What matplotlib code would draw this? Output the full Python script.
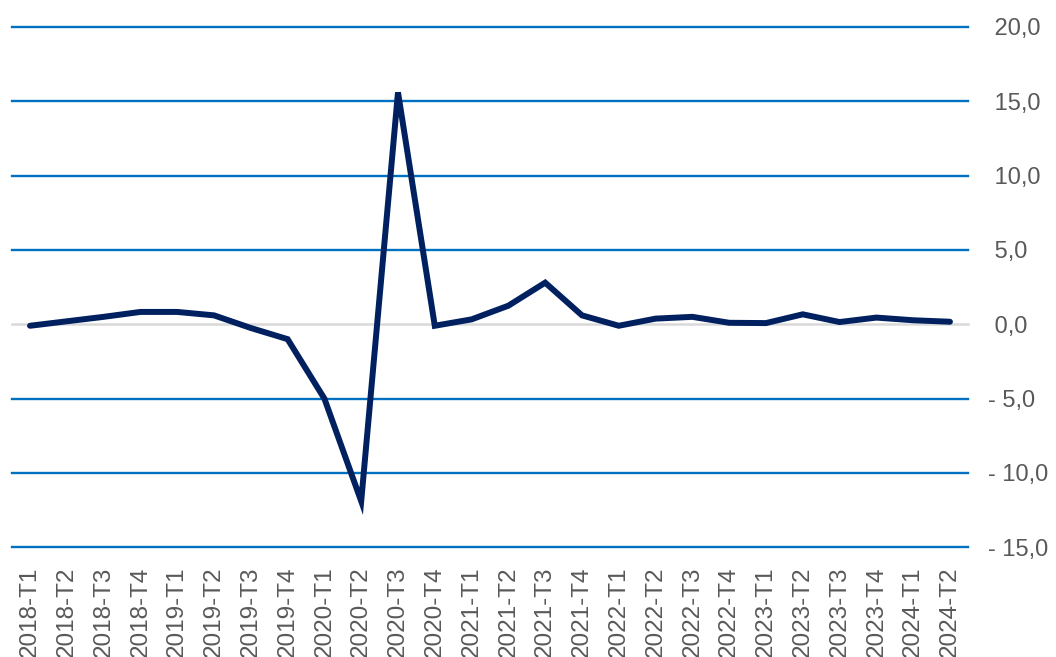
import matplotlib.pyplot as plt
import numpy as np

plt.rcParams['font.family'] = ['Liberation Sans', 'DejaVu Sans']

# quarters and values
quarters = ['2018-T1', '2018-T2', '2018-T3', '2018-T4',
            '2019-T1', '2019-T2', '2019-T3', '2019-T4',
            '2020-T1', '2020-T2', '2020-T3', '2020-T4',
            '2021-T1', '2021-T2', '2021-T3', '2021-T4',
            '2022-T1', '2022-T2', '2022-T3', '2022-T4',
            '2023-T1', '2023-T2', '2023-T3', '2023-T4',
            '2024-T1', '2024-T2']
values = [-0.1, 0.2, 0.5, 0.83,
          0.83, 0.6, -0.25, -1.0,
          -5.0, -11.9, 15.6, -0.1,
          0.33, 1.25, 2.8, 0.6,
          -0.1, 0.38, 0.5, 0.1,
          0.08, 0.67, 0.15, 0.45,
          0.27, 0.17]
y_ticks = [-15, -10, -5, 0, 5, 10, 15, 20]


def fmt(v):
    if v < 0:
        return '- {:.1f}'.format(-v).replace('.', ',')
    return ' {:.1f}'.format(v).replace('.', ',')


fig = plt.figure(figsize=(10.56, 6.57), dpi=100)
ax = fig.add_axes([0.011, 0.167, 0.906, 0.792])

x = np.arange(len(quarters))

# horizontal grid lines (zero line grey)
for t in y_ticks:
    if t == 0:
        ax.axhline(t, color='#D9D9D9', lw=1.8, zorder=1, clip_on=False)
    else:
        ax.axhline(t, color='#0070C0', lw=1.7, zorder=1, clip_on=False)

ax.plot(x, values, color='#002060', lw=4.3, solid_joinstyle='miter',
        solid_capstyle='round', zorder=3)

ax.set_xlim(-0.5, len(quarters) - 0.5)
ax.set_ylim(-15, 20)

ax.set_xticks(x)
ax.set_xticklabels(quarters, rotation=90, fontsize=17.5, color='#595959')
ax.yaxis.tick_right()
ax.set_yticks(y_ticks)
ax.set_yticklabels([fmt(t) for t in y_ticks], fontsize=17, color='#595959',
                   ha='left')
ax.tick_params(axis='y', length=0, pad=14)
ax.tick_params(axis='x', length=0, pad=14)

for s in ax.spines.values():
    s.set_visible(False)

fig.savefig('out.png', dpi=100)
